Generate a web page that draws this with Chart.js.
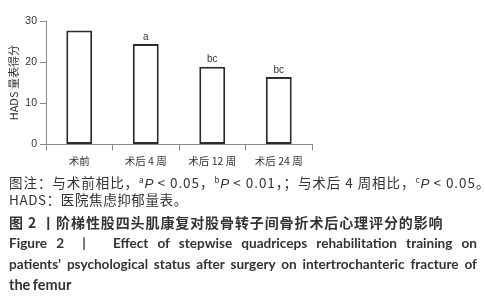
<!DOCTYPE html>
<html>
<head>
<meta charset="utf-8">
<script src="https://cdn.jsdelivr.net/npm/chart.js@4/dist/chart.umd.min.js"></script>
<style>
  html, body { margin: 0; padding: 0; background: #fff; }
  body { width: 485px; height: 300px; overflow: hidden; position: relative; }
  #wrap { position: absolute; left: 0; top: 0; width: 485px; height: 175px; }
  .cap { position: absolute; left: 9px; width: 468px; color: #333; white-space: nowrap; }
  .zh { font-family: "Noto Sans CJK SC", "Noto Sans", sans-serif; font-size: 13.5px; line-height: 18px; letter-spacing: 0.6px; }
  .zh i { font-family: "Liberation Sans", sans-serif; letter-spacing: 0; }
  .zh sup { font-size: 8px; vertical-align: 5px; line-height: 0; }
  .b { font-weight: bold; font-size: 14px; letter-spacing: 0.9px; }
  .en { font-family: Lato, "Liberation Sans", sans-serif; font-weight: bold; font-size: 13.6px; line-height: 20px; }
  .just { text-align: justify; text-align-last: justify; }
</style>
</head>
<body>
<div id="wrap"><canvas id="c"></canvas></div>
<div class="cap zh" style="top:173px; letter-spacing:0.95px;">图注：与术前相比，<sup>a</sup><i>P</i> &lt; 0.05，<sup>b</sup><i>P</i> &lt; 0.01，；与术后 4 周相比，<sup>c</sup><i>P</i> &lt; 0.05。</div>
<div class="cap zh" style="top:190px;">HADS：医院焦虑抑郁量表。</div>
<div class="cap zh b" style="top:213px;">图 2 丨阶梯性股四头肌康复对股骨转子间骨折术后心理评分的影响</div>
<div class="cap en just" style="top:233px;">Figure 2 &nbsp;| &nbsp; Effect of stepwise quadriceps rehabilitation training on</div>
<div class="cap en just" style="top:254px;">patients’ psychological status after surgery on intertrochanteric fracture of</div>
<div class="cap en" style="top:275px; font-size:14.5px; word-spacing:-1px;">the femur</div>
<script>
  // 数据
  var categories = ['术前', '术后 4 周', '术后 12 周', '术后 24 周'];
  var hadsScores = [27.7, 24.4, 18.9, 16.4];
  var sigMarks = ['', 'a', 'bc', 'bc'];
  var yTicks = [0, 10, 20, 30];

  var AXIS = '#8a8a8a';
  var INK = '#333';

  /* 柱顶显著性标记 */
  var sigPlugin = {
    id: 'sigMarks',
    afterDatasetsDraw: function (chart) {
      var ctx = chart.ctx;
      var meta = chart.getDatasetMeta(0);
      ctx.save();
      ctx.fillStyle = INK;
      ctx.font = '10px "Liberation Sans", sans-serif';
      ctx.textAlign = 'center';
      ctx.textBaseline = 'bottom';
      meta.data.forEach(function (bar, i) {
        if (sigMarks[i]) ctx.fillText(sigMarks[i], bar.x, bar.y - 2);
      });
      ctx.restore();
    }
  };

  new Chart(document.getElementById('c'), {
    type: 'bar',
    data: {
      labels: categories,
      datasets: [{
        data: hadsScores,
        backgroundColor: '#fff',
        borderColor: '#2b2b2b',
        borderWidth: 2,
        borderSkipped: false,
        barPercentage: 0.39,
        categoryPercentage: 1
      }]
    },
    options: {
      responsive: true,
      maintainAspectRatio: false,
      animation: false,
      layout: { padding: { top: 21, right: 173, bottom: 4, left: 0 } },
      plugins: { legend: { display: false }, tooltip: { enabled: false } },
      scales: {
        x: {
          grid: { offset: true, drawOnChartArea: false, color: AXIS, tickLength: 6 },
          border: { color: AXIS, width: 1 },
          ticks: { color: INK, padding: 4, font: { family: '"Noto Sans CJK SC"', size: 10.5 } }
        },
        y: {
          min: 0,
          max: 30,
          afterBuildTicks: function (scale) {
            scale.ticks = yTicks.map(function (v) { return { value: v }; });
          },
          afterFit: function (scale) { scale.width = 46; },
          grid: { drawOnChartArea: false, color: AXIS, tickLength: 6 },
          border: { color: AXIS, width: 1 },
          ticks: { color: INK, padding: 3, font: { family: '"Liberation Sans"', size: 10.5 } },
          title: {
            display: true,
            text: 'HADS 量表得分',
            color: INK,
            padding: { top: 7, bottom: 0 },
            font: { family: '"Noto Sans CJK SC"', size: 11 }
          }
        }
      }
    },
    plugins: [sigPlugin]
  });
</script>
</body>
</html>
